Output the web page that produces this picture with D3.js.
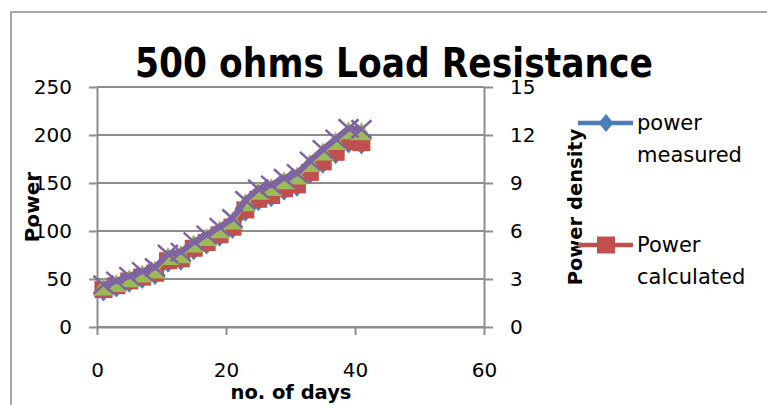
<!DOCTYPE html>
<html><head><meta charset="utf-8">
<script src="https://cdn.jsdelivr.net/npm/d3@7/dist/d3.min.js"></script>
<style>
html,body{margin:0;padding:0;background:#fff;}
svg{display:block;}
text{font-family:"DejaVu Sans",sans-serif;fill:#000;}
</style></head>
<body>
<svg id="chart" width="767" height="405"></svg>
<script>
const days = [1,3,5,7,9,11,13,15,17,19,21,23,25,27,29,31,33,35,37,39,41];
const powerMeasured   = [36,40,45,49,53,66,68,79,85,93,101,119,130,134,141,145,158,169,179,190,189];
const powerCalculated = [39,43,48,52,56,69,71,82,88,96,104,122,133,137,144,148,161,172,182,193,192];
const densityMeasured   = [2.50,2.72,3.02,3.32,3.56,4.40,4.52,5.18,5.60,6.08,6.62,7.76,8.48,8.72,9.14,9.44,10.22,10.94,11.60,12.26,12.20];
const densityCalculated = [2.64,2.88,3.18,3.48,3.72,4.56,4.68,5.34,5.76,6.24,6.78,7.92,8.64,8.88,9.30,9.60,10.38,11.10,11.76,12.42,12.36];
const xTicks = [0,20,40,60];
const yLeftTicks = [0,50,100,150,200,250];
const yRightTicks = [0,3,6,9,12,15];
const legendNames = [["power","measured"],["Power","calculated"]];
const titleText = "500 ohms Load Resistance";

const svg = d3.select("#chart");
const x = d3.scaleLinear().domain([0,60]).range([97,484]);
const yL = d3.scaleLinear().domain([0,250]).range([327,87]);
const yR = d3.scaleLinear().domain([0,15]).range([327,87]);
const grey = "#8c8c8c";

// chart frame
svg.append("path").attr("d","M11,405 L11,12 L767,12").attr("fill","none").attr("stroke","#8a8a8a").attr("stroke-width",1.5);

// gridlines
svg.append("g").selectAll("line").data(yLeftTicks).join("line")
  .attr("x1",97).attr("x2",484).attr("y1",d=>yL(d)).attr("y2",d=>yL(d))
  .attr("stroke",grey).attr("stroke-width",2);

function styleAxis(g){
  g.select(".domain").attr("stroke",grey).attr("stroke-width",2);
  g.selectAll(".tick line").attr("stroke",grey).attr("stroke-width",2);
  g.selectAll(".tick text").attr("font-size",20).attr("font-family","DejaVu Sans").attr("fill","#000");
}
svg.append("g").attr("transform","translate(97,0)")
  .call(d3.axisLeft(yL).tickValues(yLeftTicks).tickSize(8).tickSizeOuter(0).tickPadding(17)).call(styleAxis);
svg.append("g").attr("transform","translate(484,0)")
  .call(d3.axisRight(yR).tickValues(yRightTicks).tickSize(9).tickSizeOuter(0).tickPadding(17)).call(styleAxis);
svg.append("g").attr("transform","translate(0,327)")
  .call(d3.axisBottom(x).tickValues(xTicks).tickSize(8).tickSizeOuter(0).tickPadding(28)).call(styleAxis);

// title
svg.append("text").attr("x",394).attr("y",77).attr("text-anchor","middle")
  .attr("font-size",41).attr("font-weight","bold")
  .attr("textLength",518).attr("lengthAdjust","spacingAndGlyphs").text(titleText);

// axis titles
svg.append("text").attr("transform","translate(39,207) rotate(-90)").attr("text-anchor","middle")
  .attr("font-size",20).attr("font-weight","bold").text("Power");
svg.append("text").attr("transform","translate(582,207) rotate(-90)").attr("text-anchor","middle")
  .attr("font-size",19.5).attr("font-weight","bold").text("Power density");
svg.append("text").attr("x",291).attr("y",399).attr("text-anchor","middle")
  .attr("font-size",19.5).attr("font-weight","bold").text("no. of days");

// series
const colors = {blue:"#4a7ebb", red:"#c0504d", green:"#9bbb59", purple:"#8064a2"};
const diamond = "M0,-9 L7.5,0 L0,9 L-7.5,0 Z";
const square = "M-9,-8.5 L9,-8.5 L9,8.5 L-9,8.5 Z";
const tri = "M0,-9.5 L11,8.5 L-11,8.5 Z";
const cross = "M-10,-9 L10,9 M-10,9 L10,-9";

function series(vals, y, color, marker, isStroke, lw){
  const pts = days.map((d,i)=>[x(d), y(vals[i])]);
  const g = svg.append("g");
  g.append("path").attr("d", d3.line()(pts)).attr("fill","none").attr("stroke",color)
    .attr("stroke-width",lw).attr("stroke-linejoin","round");
  g.selectAll("path.m").data(pts).join("path").attr("class","m")
    .attr("transform",p=>`translate(${p[0]},${p[1]})`).attr("d",marker)
    .attr("fill",isStroke?"none":color).attr("stroke",color).attr("stroke-width",isStroke?2.5:0);
}
series(powerMeasured, yL, colors.blue, diamond, false, 5);
series(powerCalculated, yL, colors.red, square, false, 5);
series(densityMeasured, yR, colors.green, tri, false, 5);
series(densityCalculated, yR, colors.purple, cross, true, 6);

// legend
const legendY = [123, 245];
const legendColors = [colors.blue, colors.red];
const legendMarkers = [diamond, square];
const lg = svg.append("g");
legendNames.forEach((n,i)=>{
  lg.append("line").attr("x1",578).attr("x2",633).attr("y1",legendY[i]).attr("y2",legendY[i])
    .attr("stroke",legendColors[i]).attr("stroke-width",4.5);
  lg.append("path").attr("transform",`translate(606,${legendY[i]})`).attr("d",legendMarkers[i]).attr("fill",legendColors[i]);
  lg.append("text").attr("x",637).attr("y",legendY[i]+7).attr("font-size",21).text(n[0]);
  lg.append("text").attr("x",637).attr("y",legendY[i]+39).attr("font-size",21).text(n[1]);
});
</script>
</body></html>
